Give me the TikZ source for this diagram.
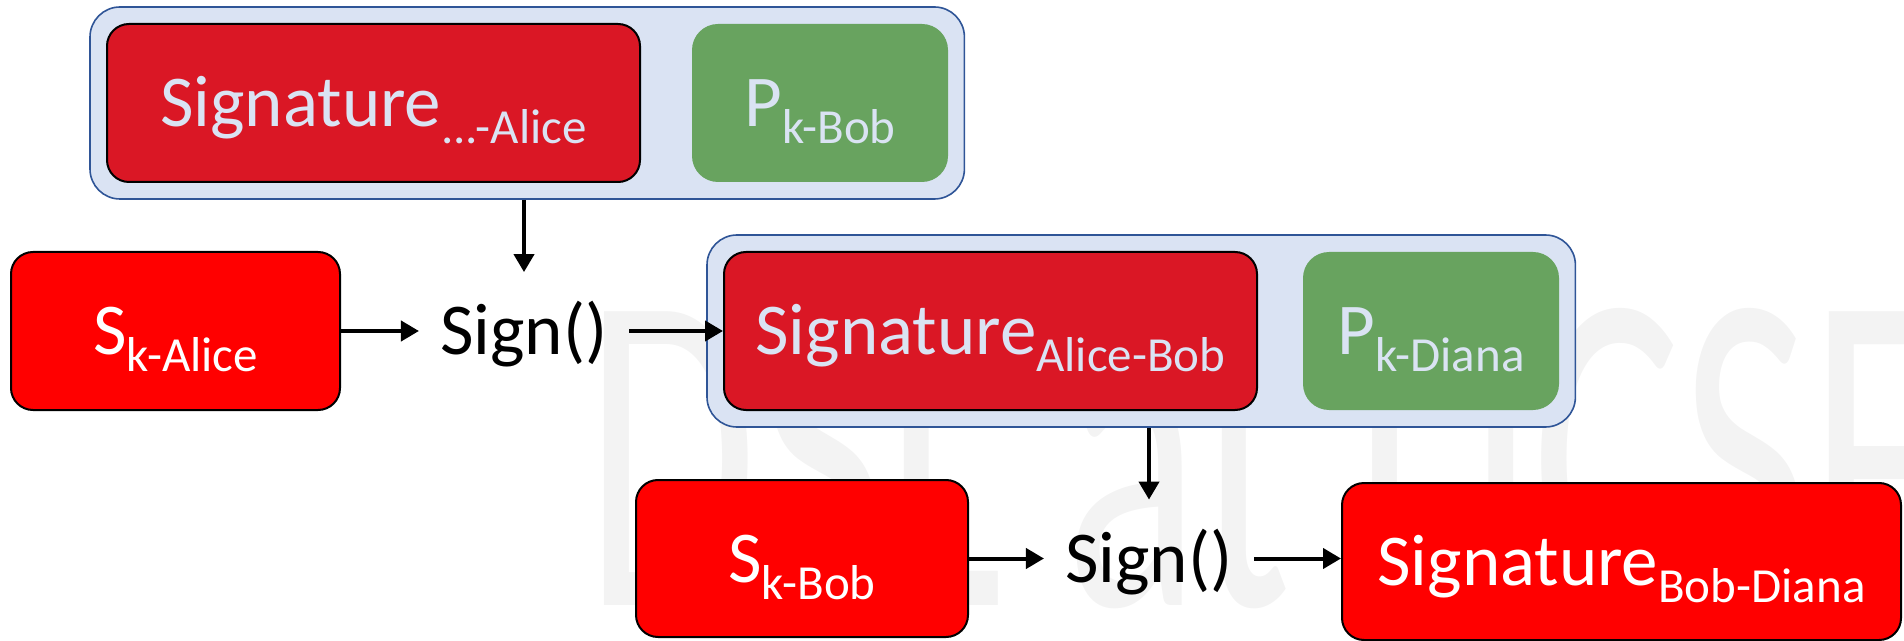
\documentclass[tikz,border=0pt]{standalone}
\usepackage{fontspec}
\setmainfont{Carlito}
\usepackage{xcolor}
\usepackage{tikz}
\usetikzlibrary{arrows.meta,fit,backgrounds}

\definecolor{keyred}{HTML}{DA1725}
\definecolor{signred}{HTML}{FF0000}
\definecolor{keygreen}{HTML}{68A35F}
\definecolor{grpfill}{HTML}{DAE3F3}
\definecolor{grpline}{HTML}{2F5597}
\definecolor{wmark}{HTML}{F3F3F3}

\newcommand{\lowsub}[1]{\raisebox{-8.5pt}{\fontsize{24.5}{26}\selectfont #1}}

\tikzset{
    bigtext/.style={font=\fontsize{36.5}{40}\selectfont, text height=23.5pt, text depth=0pt},
    redbox/.style={bigtext, draw=black, line width=1pt, fill=signred, text=white, rounded corners=11pt,
        minimum width=266.5pt, minimum height=79pt, inner sep=0pt},
    pairbox/.style={redbox, fill=keyred, text=grpfill},
    pubbox/.style={bigtext, fill=keygreen, text=grpfill, rounded corners=13pt,
        minimum width=128pt, minimum height=79pt, inner sep=0pt},
    grpbox/.style={draw=grpline, line width=0.8pt, fill=grpfill, rounded corners=15pt, inner sep=8pt},
    signop/.style={bigtext, inner xsep=10.5pt, inner ysep=17.5pt},
    flow/.style={-{Triangle[length=9pt,width=10pt]}, line width=2pt},
}

\begin{document}
\begin{tikzpicture}[x=0.5pt, y=-0.5pt]
    \useasboundingbox (0,0) rectangle (1904,641);

    \node[pairbox] (sigA) at (373.5,103) {Signature\lowsub{...-Alice}};
    \node[pubbox] (pkBob) at (820,103) {P\lowsub{k-Bob}};

    \node[redbox, minimum width=164.5pt] (skAlice) at (175.5,331) {S\lowsub{k-Alice}};
    \node[signop] (signA) at (524,331) {Sign()};
    \node[pairbox] (sigAB) at (990.5,331) {Signature\lowsub{Alice-Bob}};
    \node[pubbox] (pkDiana) at (1431,331) {P\lowsub{k-Diana}};

    \node[redbox, minimum width=166pt, minimum height=78.5pt] (skBob) at (802,558.5) {S\lowsub{k-Bob}};
    \node[signop] (signB) at (1149,558.5) {Sign()};
    \node[redbox, minimum width=279.5pt, minimum height=78.5pt] (sigBD) at (1621.5,561.5) {Signature\lowsub{Bob-Diana}};

    \begin{scope}[on background layer]
        \node[anchor=base west, inner sep=0pt, text=wmark, xscale=0.61,
            font=\fontsize{229}{229}\selectfont] (mark) at (585,605) {DSL at UCSF};
        \node[grpbox, fit=(sigA)(pkBob)] (grpA) {};
        \node[grpbox, fit=(sigAB)(pkDiana)] (grpB) {};
    \end{scope}

    \draw[flow] (grpA.south -| signA.north) -- (signA.north);
    \draw[flow] (skAlice.east) -- (signA.west);
    \draw[flow] (signA.east) -- (signA.east -| sigAB.west);

    \draw[flow] (grpB.south -| signB.north) -- (signB.north);
    \draw[flow] (skBob.east) -- (signB.west);
    \draw[flow] (signB.east) -- (signB.east -| sigBD.west);
\end{tikzpicture}
\end{document}
